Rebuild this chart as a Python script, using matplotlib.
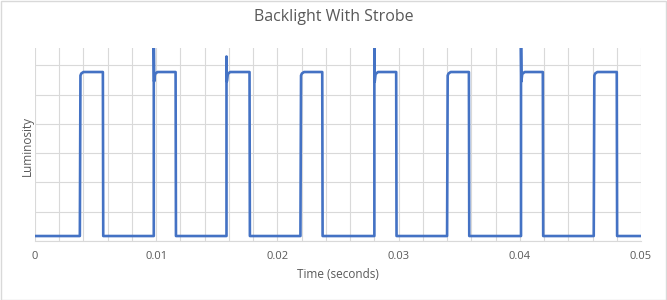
# Backlight luminosity trace with strobe pulses

import matplotlib
matplotlib.use("Agg")
import matplotlib.pyplot as plt
from matplotlib.patches import Rectangle
from matplotlib.ticker import MultipleLocator

# Pulse data (seconds / arbitrary luminosity units)
rise_times = [0.0037, 0.0098, 0.0158, 0.0219, 0.0280, 0.0340, 0.0401, 0.0461]
fall_times = [0.0056, 0.0116, 0.0177, 0.0237, 0.0298, 0.0358, 0.0419, 0.0480]
spike_peaks = [None, 6.8, 6.3, None, 6.6, None, 6.8, None]
level_low = 0.17
level_high = 5.77
hook_level = 5.45
t_start, t_end = 0.0, 0.05
tick_labels = ["0", "0.01", "0.02", "0.03", "0.04", "0.05"]

# Build trace vertices from the pulse table
times = [t_start]
lum = [level_low]
for tr, tf, pk in zip(rise_times, fall_times, spike_peaks):
    times.append(tr)
    lum.append(level_low)
    if pk is not None:
        times += [tr, tr + 0.00003, tr + 0.0001, tr + 0.0003]
        lum += [pk, hook_level, 5.7, level_high]
    else:
        times += [tr + 0.00005, tr + 0.00012, tr + 0.0003]
        lum += [5.65, 5.72, level_high]
    times += [tf, tf + 0.00003]
    lum += [level_high, level_low]
times.append(t_end)
lum.append(level_low)

text_color = "#595959"
grid_color = "#d9d9d9"
line_color = "#4472c4"

plt.rcParams["font.family"] = ["Open Sans", "DejaVu Sans"]

fig = plt.figure(figsize=(6.67, 3.0), dpi=100)
ax = fig.add_axes([35 / 667, 59 / 300, 606 / 667, 193 / 300])

ax.plot(times, lum, color=line_color, linewidth=1.9, solid_joinstyle="round")

ax.set_xlim(t_start, t_end)
ax.set_ylim(0, 6.59)
ax.xaxis.set_minor_locator(MultipleLocator(0.002))
ax.yaxis.set_major_locator(MultipleLocator(1))
ax.set_xticks([0, 0.01, 0.02, 0.03, 0.04, 0.05])
ax.set_xticklabels(tick_labels)
ax.set_yticklabels([])
ax.tick_params(axis="both", which="both", length=0, colors=text_color, labelsize=8, pad=7)
ax.grid(True, which="both", axis="x", color=grid_color, linewidth=0.8)
ax.grid(True, which="major", axis="y", color=grid_color, linewidth=0.8)
ax.set_axisbelow(True)
for side in ["top", "right", "left"]:
    ax.spines[side].set_visible(False)
ax.spines["bottom"].set_color(grid_color)

fig.text(338 / 667, (300 - 274) / 300, "Time (seconds)", ha="center", va="center",
         color=text_color, fontsize=8.5)
fig.text(27 / 667, (300 - 146) / 300, "Luminosity", ha="center", va="center",
         rotation=90, color=text_color, fontsize=8.5)
fig.text(0.5, (300 - 17) / 300, "Backlight With Strobe", ha="center", va="center",
         color=text_color, fontsize=11.5)

# Chart-area border
fig.patches.append(Rectangle((0.5 / 667, 0.5 / 300), 665.5 / 667, 298.5 / 300,
                             transform=fig.transFigure, fill=False,
                             edgecolor="#d9d9d9", linewidth=1))

fig.savefig("out.png", dpi=100)
